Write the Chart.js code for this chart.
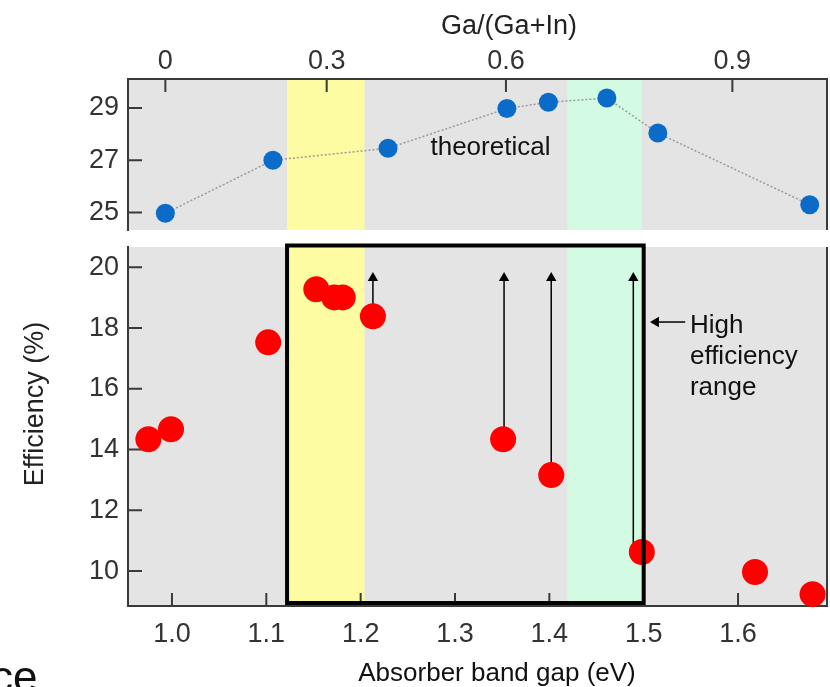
<!DOCTYPE html>
<html>
<head>
<meta charset="utf-8">
<script src="https://cdn.jsdelivr.net/npm/chart.js@4.4.1/dist/chart.umd.min.js"></script>
<style>
  body { margin: 0; background: #fff; }
  #wrap { position: relative; width: 830px; height: 687px; overflow: hidden; font-family: 'Liberation Sans', Arial, sans-serif; }
  #topChart { position: absolute; left: 0; top: 0; }
  #bottomChart { position: absolute; left: 0; top: 240px; }
  #cut { position: absolute; left: -9px; top: 655px; font-size: 44px; line-height: 44px; color: #111; }
</style>
</head>
<body>
<div id="wrap">
  <canvas id="topChart" width="830" height="240"></canvas>
  <canvas id="bottomChart" width="830" height="447"></canvas>
  <div id="cut">ce</div>
</div>
<script>
'use strict';

// ====================== DATA ======================//
// theoretical efficiency (%) vs band gap (eV)
let theoryGap = [0.993, 1.107, 1.229, 1.355, 1.399, 1.461, 1.515, 1.676];
let theoryEff = [24.97, 27.0, 27.46, 28.98, 29.22, 29.38, 28.04, 25.3];

// measured cells
let cellGap = [0.975, 0.999, 1.102, 1.153, 1.172, 1.181, 1.213, 1.351, 1.402, 1.498, 1.618, 1.679];
let cellEff = [14.34, 14.67, 17.53, 19.28, 19.01, 19.01, 18.39, 14.34, 13.16, 10.63, 9.97, 9.24];

// upward arrows: band gap, start, end
let arrowGap = [1.213, 1.352, 1.402, 1.489];
let arrowFrom = [18.39, 14.34, 13.16, 10.8];
let arrowTo = 19.65;

// top axis, Ga/(Ga+In) ticks sit at these band gaps
let gaFractions = ['0', '0.3', '0.6', '0.9'];
let gaBandGaps = [0.993, 1.164, 1.354, 1.594];

let gapTicks = [1.0, 1.1, 1.2, 1.3, 1.4, 1.5, 1.6];
let theoryTicks = [25, 27, 29];
let effTicks = [10, 12, 14, 16, 18, 20];

let yellowBand = [1.122, 1.204];
let greenBand = [1.419, 1.498];
let boxGap = [1.122, 1.5];
let boxEff = [8.95, 20.72];

let gapMin = 0.9534;
let gapMax = 1.6943;

Chart.defaults.font.family = "'Liberation Sans', Arial, sans-serif";

// y axes: fixed width, no extra label padding above/below the plot
function fitY(s) {
  s.width = 128;
  s.paddingTop = 0;
  s.paddingBottom = 0;
}

// ====================== PLUGINS ======================//
// grey plot area, coloured bands, inward ticks, right edge
let panelPlugin = {
  id: 'panel',
  beforeDraw(chart) {
    let ctx = chart.ctx;
    let a = chart.chartArea;
    let x = chart.scales.x;
    ctx.save();
    ctx.fillStyle = '#e4e4e4';
    ctx.fillRect(a.left, a.top, a.right - a.left, a.bottom - a.top);
    ctx.fillStyle = '#fdfca2';
    let x1 = x.getPixelForValue(yellowBand[0]);
    let x2 = x.getPixelForValue(yellowBand[1]);
    ctx.fillRect(x1, a.top, x2 - x1, a.bottom - a.top);
    ctx.fillStyle = '#d3fbe3';
    x1 = x.getPixelForValue(greenBand[0]);
    x2 = x.getPixelForValue(greenBand[1]);
    ctx.fillRect(x1, a.top, x2 - x1, a.bottom - a.top);
    ctx.restore();
  },
  beforeDatasetsDraw(chart) {
    let ctx = chart.ctx;
    let a = chart.chartArea;
    let x = chart.scales.x;
    let y = chart.scales.y;
    ctx.save();
    ctx.strokeStyle = '#3a3a3a';
    ctx.lineWidth = 2;
    ctx.beginPath();
    y.ticks.forEach(t => {
      let py = y.getPixelForValue(t.value);
      ctx.moveTo(a.left, py);
      ctx.lineTo(a.left + 14, py);
    });
    x.ticks.forEach(t => {
      let px = x.getPixelForValue(t.value);
      if (x.position === 'top') {
        ctx.moveTo(px, a.top);
        ctx.lineTo(px, a.top + 13);
      } else {
        ctx.moveTo(px, a.bottom);
        ctx.lineTo(px, a.bottom - 13);
      }
    });
    ctx.moveTo(a.right, a.top);
    ctx.lineTo(a.right, a.bottom);
    ctx.stroke();
    ctx.restore();
  }
};

let topText = {
  id: 'topText',
  afterDatasetsDraw(chart) {
    let ctx = chart.ctx;
    ctx.save();
    ctx.fillStyle = '#111';
    ctx.font = "26px 'Liberation Sans', Arial, sans-serif";
    ctx.textBaseline = 'middle';
    ctx.fillText('theoretical', chart.scales.x.getPixelForValue(1.274), chart.scales.y.getPixelForValue(27.46));
    // top axis title, a bit right of the plot centre
    ctx.fillStyle = '#222';
    ctx.font = "27px 'Liberation Sans', Arial, sans-serif";
    ctx.textAlign = 'center';
    ctx.fillText('Ga/(Ga+In)', 509, 27);
    ctx.restore();
  }
};

let bottomText = {
  id: 'bottomText',
  afterDatasetsDraw(chart) {
    let ctx = chart.ctx;
    let x = chart.scales.x;
    let y = chart.scales.y;
    ctx.save();
    ctx.fillStyle = '#111';
    ctx.font = "26px 'Liberation Sans', Arial, sans-serif";
    ctx.textBaseline = 'middle';
    let tx = x.getPixelForValue(1.549);
    ctx.fillText('High', tx, y.getPixelForValue(18.09));
    ctx.fillText('efficiency', tx, y.getPixelForValue(17.04));
    ctx.fillText('range', tx, y.getPixelForValue(16.02));
    // x axis title
    ctx.textAlign = 'center';
    ctx.fillText('Absorber band gap (eV)', 497, 434);
    // y axis title, sits a little above the panel centre
    ctx.fillStyle = '#222';
    ctx.font = "27px 'Liberation Sans', Arial, sans-serif";
    ctx.translate(36, 164);
    ctx.rotate(-Math.PI / 2);
    ctx.fillText('Efficiency (%)', 0, 0);
    ctx.restore();
  }
};

// ====================== TOP PANEL ======================//
new Chart(document.getElementById('topChart'), {
  type: 'scatter',
  data: {
    datasets: [{
      data: theoryGap.map((g, i) => ({x: g, y: theoryEff[i]})),
      showLine: true,
      borderColor: '#9a9a9a',
      borderWidth: 1.5,
      borderDash: [2, 2],
      pointRadius: 9.5,
      pointBackgroundColor: '#0a6cc8',
      pointBorderWidth: 0,
      clip: false
    }]
  },
  options: {
    responsive: false,
    animation: false,
    layout: {autoPadding: false, padding: {left: 0, right: 3, top: 0, bottom: 10}},
    plugins: {legend: {display: false}, tooltip: {enabled: false}},
    scales: {
      x: {
        type: 'linear',
        position: 'top',
        min: gapMin,
        max: gapMax,
        afterBuildTicks: s => { s.ticks = gaBandGaps.map(v => ({value: v})); },
        afterFit: s => { s.height = 79; },
        grid: {display: false, drawTicks: false},
        border: {display: true, color: '#3a3a3a', width: 2},
        ticks: {
          padding: 1, color: '#333', font: {size: 27}, autoSkip: false, maxRotation: 0,
          callback: (v, i) => gaFractions[i]
        }
      },
      y: {
        min: 24.33,
        max: 30.11,
        afterBuildTicks: s => { s.ticks = theoryTicks.map(v => ({value: v})); },
        afterFit: fitY,
        grid: {display: false, drawTicks: false},
        border: {display: true, color: '#3a3a3a', width: 2},
        ticks: {padding: 9, color: '#333', font: {size: 27}}
      }
    }
  },
  plugins: [panelPlugin, topText]
});

// ====================== BOTTOM PANEL ======================//
let arrowSets = arrowGap.map((g, i) => ({
  data: [{x: g, y: arrowFrom[i]}, {x: g, y: arrowTo}],
  showLine: true,
  borderColor: '#000',
  borderWidth: 1.5,
  pointRadius: [0, 6],
  pointStyle: 'triangle',
  pointBackgroundColor: '#000',
  pointBorderWidth: 0,
  clip: false,
  order: 2
}));

new Chart(document.getElementById('bottomChart'), {
  type: 'scatter',
  data: {
    datasets: [{
      // high efficiency range box
      data: [
        {x: boxGap[0], y: boxEff[0]}, {x: boxGap[0], y: boxEff[1]},
        {x: boxGap[1], y: boxEff[1]}, {x: boxGap[1], y: boxEff[0]},
        {x: boxGap[0], y: boxEff[0]}
      ],
      showLine: true,
      borderColor: '#000',
      borderWidth: 4,
      borderJoinStyle: 'miter',
      borderCapStyle: 'square',
      pointRadius: 0,
      clip: false,
      order: 0
    }, {
      data: cellGap.map((g, i) => ({x: g, y: cellEff[i]})),
      pointRadius: 13,
      pointBackgroundColor: '#ff0000',
      pointBorderWidth: 0,
      clip: false,
      order: 1
    }, {
      data: [{x: 1.544, y: 18.2}, {x: 1.513, y: 18.2}],
      showLine: true,
      borderColor: '#000',
      borderWidth: 1.5,
      pointRadius: [0, 6],
      pointStyle: 'triangle',
      pointRotation: 270,
      pointBackgroundColor: '#000',
      pointBorderWidth: 0,
      clip: false,
      order: 2
    }].concat(arrowSets)
  },
  options: {
    responsive: false,
    animation: false,
    layout: {autoPadding: false, padding: {left: 0, right: 3, top: 7, bottom: 0}},
    plugins: {legend: {display: false}, tooltip: {enabled: false}},
    scales: {
      x: {
        type: 'linear',
        position: 'bottom',
        min: gapMin,
        max: gapMax,
        afterBuildTicks: s => { s.ticks = gapTicks.map(v => ({value: v})); },
        afterFit: s => { s.height = 81; },
        grid: {display: false, drawTicks: false},
        border: {display: true, color: '#3a3a3a', width: 2},
        ticks: {
          padding: 12, color: '#333', font: {size: 27}, autoSkip: false, maxRotation: 0,
          callback: v => v.toFixed(1)
        }
      },
      y: {
        min: 8.85,
        max: 20.67,
        afterBuildTicks: s => { s.ticks = effTicks.map(v => ({value: v})); },
        afterFit: fitY,
        grid: {display: false, drawTicks: false},
        border: {display: true, color: '#3a3a3a', width: 2},
        ticks: {padding: 9, color: '#333', font: {size: 27}}
      }
    }
  },
  plugins: [panelPlugin, bottomText]
});
</script>
</body>
</html>
